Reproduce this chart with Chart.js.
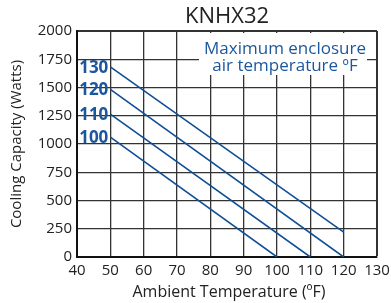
<!DOCTYPE html>
<html>
<head>
<meta charset="utf-8">
<script src="https://cdn.jsdelivr.net/npm/chart.js@4/dist/chart.umd.min.js"></script>
<style>
  html, body { margin: 0; padding: 0; background: #fff; }
  #wrap { width: 391px; height: 303px; }
</style>
</head>
<body>
<div id="wrap"><canvas id="chart" width="391" height="303"></canvas></div>
<script>
// enclosure temperatures (ºF) and line ends
const enclosureTemps = [100, 110, 120, 130];
const startAmbient = [50, 50, 50, 50];
const startWatts = [1060, 1265, 1483, 1683];
const endAmbient = [100, 110, 120, 120];
const endWatts = [0, 0, 0, 220];

const xTicks = [40, 50, 60, 70, 80, 90, 100, 110, 120, 130];
const yTicks = [0, 250, 500, 750, 1000, 1250, 1500, 1750, 2000];

const lineBlue = "#0f4f96";
const textBlue = "#1b579d";
const font = "'Open Sans', sans-serif";

const datasets = enclosureTemps.map((t, i) => ({
  label: t + " ºF",
  data: [
    { x: startAmbient[i], y: startWatts[i] },
    { x: endAmbient[i], y: endWatts[i] }
  ],
  borderColor: lineBlue,
  borderWidth: 1.6,
  pointRadius: 0,
  fill: false,
  tension: 0
}));

// extra texts: title, axis titles, line labels, boxed note
const textPlugin = {
  id: "texts",
  afterDatasetsDraw(chart) {
    const c = chart.ctx;
    const xs = chart.scales.x, ys = chart.scales.y;
    c.save();

    // line labels
    c.fillStyle = textBlue;
    c.font = "bold 17px " + font;
    c.textAlign = "right";
    c.textBaseline = "middle";
    enclosureTemps.forEach((t, i) => {
      c.fillText(String(t), xs.getPixelForValue(startAmbient[i]) - 2, ys.getPixelForValue(startWatts[i]) + 1);
    });

    // note box
    c.fillStyle = "#fff";
    c.fillRect(199, 33, 168, 42);
    c.fillStyle = textBlue;
    c.font = "17px " + font;
    c.textAlign = "center";
    c.textBaseline = "alphabetic";
    c.fillText("Maximum enclosure", 285, 54);
    c.fillText("air temperature ºF", 285, 71);
    c.restore();
  },
  afterDraw(chart) {
    const c = chart.ctx;
    c.save();
    c.fillStyle = "#222";
    c.textAlign = "center";
    c.textBaseline = "alphabetic";
    c.font = "22px " + font;
    c.fillText("KNHX32", 227, 23);
    c.font = "16px " + font;
    c.fillText("Ambient Temperature (ºF)", 229, 297);
    c.translate(21, 144);
    c.rotate(-Math.PI / 2);
    c.font = "15px " + font;
    c.fillText("Cooling Capacity (Watts)", 0, 0);
    c.restore();
  }
};

const gridWidth = (ctx, last) => (ctx.tick && ctx.tick.value === last ? 2 : 1.3);

new Chart(document.getElementById("chart"), {
  type: "line",
  data: { datasets },
  options: {
    responsive: false,
    animation: false,
    layout: { padding: { top: 31, right: 14, left: 0, bottom: 0 } },
    plugins: { legend: { display: false }, tooltip: { enabled: false }, title: { display: false } },
    scales: {
      x: {
        type: "linear",
        min: xTicks[0],
        max: xTicks[xTicks.length - 1],
        afterBuildTicks: (s) => { s.ticks = xTicks.map(v => ({ value: v })); },
        afterFit: (s) => { s.height = 46; s.paddingLeft = 0; s.paddingRight = 0; },
        ticks: { color: "#222", font: { family: font, size: 15 }, padding: 5, maxRotation: 0, autoSkip: false,
                 callback: (v) => String(v) },
        grid: { color: "#333", lineWidth: (ctx) => gridWidth(ctx, 130), drawTicks: false },
        border: { display: true, color: "#111", width: 2 }
      },
      y: {
        min: yTicks[0],
        max: yTicks[yTicks.length - 1],
        afterBuildTicks: (s) => { s.ticks = yTicks.map(v => ({ value: v })); },
        afterFit: (s) => { s.width = 77; s.paddingTop = 0; s.paddingBottom = 0; },
        ticks: { color: "#222", font: { family: font, size: 15 }, padding: 5, autoSkip: false,
                 callback: (v) => String(v) },
        grid: { color: "#333", lineWidth: (ctx) => gridWidth(ctx, 2000), drawTicks: false },
        border: { display: true, color: "#111", width: 2 }
      }
    }
  },
  plugins: [textPlugin]
});
</script>
</body>
</html>
